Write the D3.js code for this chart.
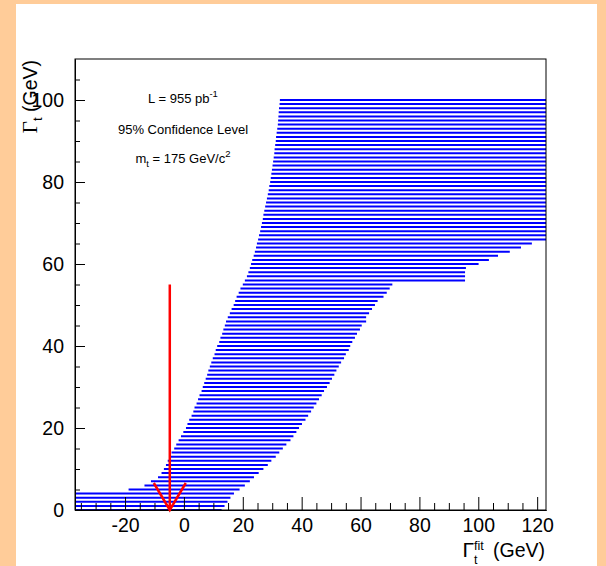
<!DOCTYPE html>
<html>
<head>
<meta charset="utf-8">
<script src="https://cdn.jsdelivr.net/npm/d3@7"></script>
<style>
  html, body { margin: 0; padding: 0; background: #ffcc99; }
  svg { display: block; }
  text { font-family: "Liberation Sans", Arial, Helvetica, sans-serif; fill: #000; }
</style>
</head>
<body>
<div id="chart"></div>
<script>
// Gamma_t (GeV) of every horizontal line of the belt
const gammaT = [0,1,2,3,4,5,6,7,8,9,10,11,12,13,14,15,16,17,18,19,20,
  21,22,23,24,25,26,27,28,29,30,31,32,33,34,35,36,37,38,39,40,
  41,42,43,44,45,46,47,48,49,50,51,52,53,54,55,56,57,58,59,60,
  61,62,63,64,65,66,67,68,69,70,71,72,73,74,75,76,77,78,79,80,
  81,82,83,84,85,86,87,88,89,90,91,92,93,94,95,96,97,98,99,100];

// lower edge of the acceptance region in Gamma_t^fit (GeV)
const fitLow = [-40,-40,-40,-40,-40,-18.8,-13.4,-11.2,-8.8,-7.6,-6.8,
  -6.1,-5.5,-4.8,-4.2,-3.3,-2.6,-1.8,-1.0,-0.2,0.7,
  1.2,1.8,2.6,3.2,3.6,4.3,4.8,5.3,6.0,6.4,
  6.9,7.4,7.9,8.3,8.8,9.3,9.8,10.4,10.8,11.3,
  12.0,12.4,13.0,13.4,13.9,14.3,14.9,15.6,16.2,16.9,
  17.4,17.9,18.6,19.2,20.0,20.7,21.4,21.9,22.4,22.8,
  23.2,23.7,24.1,24.5,24.8,25.2,25.5,25.9,26.2,26.5,
  26.8,27.0,27.3,27.6,27.9,28.2,28.5,28.8,29.0,29.3,
  29.5,29.7,29.9,30.1,30.3,30.5,30.7,30.8,31.0,31.2,
  31.3,31.5,31.7,31.9,32.0,32.1,32.2,32.3,32.5,32.6];

// upper edge of the acceptance region in Gamma_t^fit (GeV)
const fitHigh = [12.8,13.8,14.8,15.8,17.0,18.9,20.7,22.4,23.8,25.4,27.0,
  28.5,29.7,31.2,32.4,33.6,34.8,36.2,37.2,38.2,39.1,
  40.1,41.3,42.2,43.2,44.1,45.0,45.9,46.8,47.6,48.6,
  49.5,50.3,51.1,51.8,52.6,53.4,54.4,55.0,56.0,56.5,
  57.2,58.1,58.8,59.8,60.4,61.9,61.9,62.9,63.9,64.9,
  65.8,67.8,68.9,69.9,70.8,95.5,95.5,95.5,95.8,100.1,
  103.6,106.7,110.7,114.5,118.2,125,125,125,125,125,
  125,125,125,125,125,125,125,125,125,125,
  125,125,125,125,125,125,125,125,125,125,
  125,125,125,125,125,125,125,125,125,125];

const xMajor = [-20,0,20,40,60,80,100,120];
const xMinor = [-35,-30,-25,-15,-10,-5,5,10,15,25,30,35,45,50,55,65,70,75,85,90,95,105,110,115];
const yMajor = [0,20,40,60,80,100];
const yMinor = [5,10,15,25,30,35,45,50,55,65,70,75,85,90,95,105];

// measured value marked by the arrow
const arrowFit = -4.8, arrowFrom = 55, arrowTo = 0;

const W = 606, H = 566;
const frame = {left: 75, right: 546, top: 59, bottom: 510};

const svg = d3.select("#chart").append("svg")
  .attr("width", W).attr("height", H);

// canvas
svg.append("rect").attr("x", 16).attr("y", 4)
  .attr("width", 581).attr("height", H - 4).attr("fill", "#fff");

const x = d3.scaleLinear().domain([-37, 123]).range([frame.left, frame.right]);
const y = d3.scaleLinear().domain([0, 110]).range([frame.bottom, frame.top]);

svg.append("defs").append("clipPath").attr("id", "frameClip")
  .append("rect")
  .attr("x", frame.left).attr("y", frame.top - 2)
  .attr("width", frame.right - frame.left).attr("height", frame.bottom - frame.top + 4);

// belt lines
let rows = gammaT.map((g, i) => ({g: g, lo: fitLow[i], hi: fitHigh[i]}));
svg.append("g").attr("clip-path", "url(#frameClip)")
  .selectAll("line")
  .data(rows)
  .enter().append("line")
    .attr("x1", d => x(d.lo))
    .attr("x2", d => x(d.hi))
    .attr("y1", d => y(d.g))
    .attr("y2", d => y(d.g))
    .attr("stroke", "#0000ff")
    .attr("stroke-width", 2);

// frame
svg.append("rect")
  .attr("x", frame.left).attr("y", frame.top)
  .attr("width", frame.right - frame.left).attr("height", frame.bottom - frame.top)
  .attr("fill", "none").attr("stroke", "#000").attr("stroke-width", 1);

// plain hyphen minus like the original
const fmt = d => String(d);

// x axis, ticks pointing into the frame
let xg = svg.append("g").attr("transform", `translate(0,${frame.bottom})`)
  .call(d3.axisBottom(x).tickValues(xMajor).tickFormat(fmt)
    .tickSizeInner(-13).tickSizeOuter(0).tickPadding(8));
xg.selectAll("text").style("font-size", "19.5px").attr("font-family", null);
svg.append("g").attr("transform", `translate(0,${frame.bottom})`)
  .call(d3.axisBottom(x).tickValues(xMinor).tickSizeInner(-7).tickSizeOuter(0).tickFormat(""));

let yg = svg.append("g").attr("transform", `translate(${frame.left},0)`)
  .call(d3.axisLeft(y).tickValues(yMajor).tickFormat(fmt)
    .tickSizeInner(-10).tickSizeOuter(0).tickPadding(11));
yg.selectAll("text").style("font-size", "19.5px").attr("font-family", null);
svg.append("g").attr("transform", `translate(${frame.left},0)`)
  .call(d3.axisLeft(y).tickValues(yMinor).tickSizeInner(-5).tickSizeOuter(0).tickFormat(""));

svg.selectAll(".domain").attr("stroke", "#000");
svg.selectAll(".tick line").attr("stroke", "#000");

// red arrow
let ax = x(arrowFit);
let arrow = svg.append("g").attr("stroke", "#ff0000").attr("stroke-width", 2.5)
  .attr("fill", "none");
arrow.append("line")
  .attr("x1", ax).attr("x2", ax)
  .attr("y1", y(arrowFrom)).attr("y2", y(arrowTo));
arrow.append("path")
  .attr("d", `M${ax - 16},${y(arrowTo) - 27} L${ax},${y(arrowTo)} L${ax + 16},${y(arrowTo) - 27}`);

// info text
const info = svg.append("g").attr("text-anchor", "middle").style("font-size", "13px");
let t1 = info.append("text").attr("x", 183).attr("y", 103);
t1.append("tspan").text("L = 955 pb");
t1.append("tspan").attr("dy", -6).style("font-size", "9.5px").text("-1");
info.append("text").attr("x", 183).attr("y", 134).text("95% Confidence Level");
let t3 = info.append("text").attr("x", 183).attr("y", 163);
t3.append("tspan").text("m");
t3.append("tspan").attr("dy", 4).style("font-size", "9.5px").text("t");
t3.append("tspan").attr("dy", -4).text(" = 175 GeV/c");
t3.append("tspan").attr("dy", -6).style("font-size", "9.5px").text("2");

// y axis title (rotated)
let yt = svg.append("text")
  .attr("transform", `translate(37,${frame.top + 1}) rotate(-90)`)
  .attr("text-anchor", "end")
  .style("font-size", "19.5px");
yt.append("tspan").attr("font-family", "'Liberation Serif', 'DejaVu Serif', serif")
  .style("font-size", "21px").text("Γ");
yt.append("tspan").attr("dy", 5).style("font-size", "13px").text("t");
yt.append("tspan").attr("dy", -5).text(" (GeV)");

// x axis title
let xt = svg.append("text").attr("x", frame.right - 1).attr("y", 557)
  .attr("text-anchor", "end").style("font-size", "19.5px").text("(GeV)");
let gevW = xt.node().getComputedTextLength();
let subX = frame.right - 1 - gevW - 19;
svg.append("text").attr("x", subX).attr("y", 550).style("font-size", "12.5px").text("fit");
svg.append("text").attr("x", subX).attr("y", 564).style("font-size", "12.5px").text("t");
svg.append("text").attr("x", subX).attr("y", 557).attr("text-anchor", "end")
  .attr("font-family", "'Liberation Serif', 'DejaVu Serif', serif")
  .style("font-size", "21px").text("Γ");
</script>
</body>
</html>
